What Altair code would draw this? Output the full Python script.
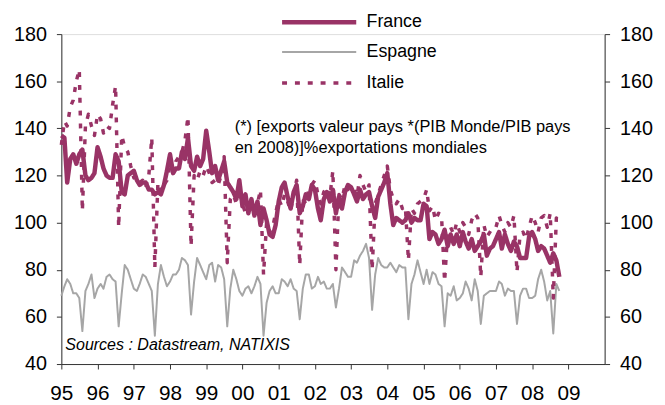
import altair as alt
import pandas as pd

# ---------------- data ----------------
series_names = ["France", "Espagne", "Italie"]
months = pd.date_range("1995-01-01", periods=166, freq="MS")
year_ticks = list(range(1995, 2010))
y_ticks = [40, 60, 80, 100, 120, 140, 160, 180]

france = [
    137, 136, 117, 127, 129, 125, 129, 131, 120, 118, 119, 121,
    132, 128, 123, 120, 119, 119, 129, 126, 113, 112, 120, 121,
    122, 118, 116, 117, 117, 114, 114, 112, 113, 112, 116, 122,
    129, 121, 123, 123, 130, 127, 136, 124, 122, 128, 124, 127,
    139, 130, 121, 124, 118, 122, 126, 117, 115, 113, 110, 118,
    107, 112, 104, 110, 103, 109, 99, 106, 101, 95, 94, 99,
    109, 115, 117, 111, 106, 113, 116, 104, 107, 112, 110, 116,
    114, 106, 101, 110, 113, 109, 114, 104, 111, 106, 113, 116,
    115, 112, 109, 114, 110, 112, 113, 107, 102, 111, 114, 117,
    121, 108, 99, 102, 101, 100, 101, 104, 100, 102, 101, 101,
    108, 107, 93, 96, 95, 91, 93, 97, 90, 95, 91, 95,
    90, 96, 92, 89, 93, 88, 90, 92, 95, 86, 89, 90,
    93, 96, 89, 95, 91, 88, 92, 90, 85, 85, 85, 94,
    96, 93, 88, 90, 89, 86, 83, 87, 84, 77,
]

espagne = [
    69, 73, 76, 74, 70, 70, 68, 54, 71, 74, 78, 68,
    72, 74, 72, 77, 78, 76, 75, 56, 70, 82, 80, 76,
    72, 71, 74, 78, 77, 74, 71, 52, 74, 82, 77, 73,
    75, 78, 78, 80, 85, 84, 82, 61, 75, 85, 82, 79,
    76, 82, 83, 75, 82, 81, 76, 56, 72, 80, 76, 71,
    69, 72, 73, 70, 73, 77, 74, 52, 66, 71, 73, 70,
    70, 76, 75, 73, 76, 72, 71, 59, 72, 78, 78, 72,
    73, 77, 74, 75, 72, 72, 74, 64, 72, 81, 79, 77,
    77, 84, 83, 86, 88, 91, 85, 63, 78, 85, 82, 81,
    81, 83, 81, 79, 82, 81, 81, 59, 74, 78, 84, 79,
    74, 80, 74, 79, 78, 74, 73, 56, 70, 69, 73, 67,
    68, 70, 75, 72, 67, 76, 71, 57, 69, 70, 71, 71,
    71, 75, 74, 69, 72, 71, 71, 57, 69, 72, 72, 68,
    68, 69, 76, 80, 75, 67, 71, 53, 74, 71,
]

italie = [
    133, 143, 141, 149, 152, 160, 165, 105, 141, 146, 141, 137,
    146, 144, 138, 141, 140, 150, 158, 98, 137, 132, 130, 124,
    119, 120, 117, 118, 115, 120, 136, 81, 117, 113, 116, 118,
    124, 121, 126, 128, 130, 135, 145, 90, 120, 118, 122, 120,
    124, 121, 117, 118, 116, 120, 128, 83, 110, 112, 108, 114,
    108, 104, 106, 110, 104, 108, 114, 78, 100, 96, 98, 104,
    110, 107, 112, 109, 105, 112, 118, 82, 110, 108, 114, 116,
    118, 112, 108, 113, 115, 111, 122, 80, 112, 110, 116, 114,
    116, 114, 111, 120, 116, 113, 116, 80, 108, 112, 116, 120,
    124, 114, 110, 108, 110, 106, 107, 84, 106, 104, 108, 109,
    110, 114, 105, 107, 101, 104, 103, 75, 96, 98, 95, 100,
    96, 100, 98, 95, 101, 104, 102, 77, 99, 94, 96, 98,
    98, 103, 99, 96, 100, 98, 103, 79, 95, 96, 93, 98,
    103, 100, 96, 102, 103, 98, 104, 68, 102, 100,
]

note_text = ["(*) [exports valeur pays *(PIB Monde/PIB pays",
             "en 2008)]%exportations mondiales"]
source_text = "Sources : Datastream, NATIXIS"

rows = []
for name, vals in zip(series_names, [france, espagne, italie]):
    for d, v in zip(months, vals):
        rows.append({"date": d, "pays": name, "valeur": v})
df = pd.DataFrame(rows)

# ---------------- style ----------------
FONT = "Liberation Sans"
PURPLE = "#993366"
GRAY = "#A6A6A6"
AXIS_COLOR = "#333333"

x_domain = [alt.DateTime(year=1995, month=1, date=1),
            alt.DateTime(year=2010, month=1, date=1)]
x_scale = alt.Scale(domain=x_domain)
y_scale = alt.Scale(domain=[40, 180], nice=False, zero=False)

x_axis = alt.Axis(
    values=[alt.DateTime(year=y, month=1, date=1) for y in year_ticks],
    format="%y", title=None, grid=False, labelFlush=False, labelOverlap=False,
    labelFont=FONT, labelFontSize=21, labelColor="#000000",
    tickSize=5, tickColor=AXIS_COLOR, domainColor=AXIS_COLOR,
    labelPadding=14,
)

def y_axis(orient):
    return alt.Axis(
        orient=orient, values=y_ticks, title=None, grid=False,
        labelFlush=False, labelOverlap=False,
        labelFont=FONT, labelFontSize=20, labelColor="#000000",
        tickSize=5, tickColor=AXIS_COLOR, domainColor=AXIS_COLOR,
        labelPadding=10,
    )

legend = alt.Legend(
    title=None, orient="none", legendX=245, legendY=-28,
    symbolType="M-2.78,0H2.78", symbolSize=729, labelFont=FONT, labelFontSize=18,
    labelColor="#000000", labelOffset=32, rowPadding=6.5,
)

lines = alt.Chart(df).mark_line(strokeJoin="round").encode(
    x=alt.X("date:T", scale=x_scale, axis=x_axis),
    y=alt.Y("valeur:Q", scale=y_scale, axis=y_axis("left")),
    color=alt.Color("pays:N", sort=series_names,
                    scale=alt.Scale(domain=series_names, range=[PURPLE, GRAY, PURPLE]),
                    legend=legend),
    strokeDash=alt.StrokeDash("pays:N", sort=series_names,
                              scale=alt.Scale(domain=series_names,
                                              range=[[1, 0], [1, 0], [5, 8]]),
                              legend=legend),
    strokeWidth=alt.StrokeWidth("pays:N", sort=series_names,
                                scale=alt.Scale(type="ordinal", domain=series_names,
                                                range=[4.5, 2, 3.5]),
                                legend=legend),
)

note = alt.Chart(pd.DataFrame({"t": [note_text]})).mark_text(
    align="left", baseline="middle", font=FONT, fontSize=16.6,
    lineHeight=21.5, color="#000000",
).encode(
    x=alt.X(datum=alt.DateTime(year=1999, month=10, date=15), scale=x_scale, axis=x_axis),
    y=alt.Y(datum=140.6, scale=y_scale, axis=y_axis("right")),
    text="t",
)

sources = alt.Chart(pd.DataFrame({"t": [source_text]})).mark_text(
    align="left", baseline="middle", font=FONT, fontSize=16.2,
    fontStyle="italic", color="#000000",
).encode(
    x=alt.X(datum=alt.DateTime(year=1995, month=2, date=10), scale=x_scale, axis=x_axis),
    y=alt.Y(datum=48.1, scale=y_scale, axis=y_axis("right")),
    text="t",
)

chart = alt.layer(lines, alt.layer(note, sources)).resolve_scale(
    y="independent"
).properties(
    width=550, height=334,
    padding={"left": 54, "top": 24, "right": 53, "bottom": 37},
    autosize=alt.AutoSizeParams(type="none"),
).configure_view(stroke=None).configure(font=FONT)

chart.save("out.html", embed_options={"renderer": "svg", "actions": False})
